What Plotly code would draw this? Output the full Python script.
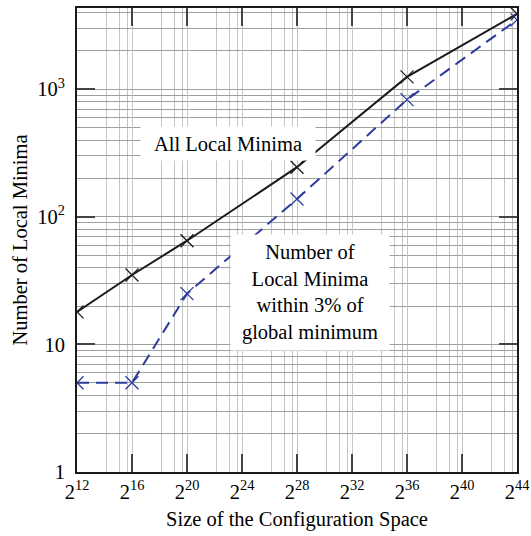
import plotly.graph_objects as go
import numpy as np

# ---- data ----
size_exponents = [12, 16, 20, 28, 36, 44]          # configuration space = 2**exp
all_local_minima = [18, 35, 65, 245, 1250, 3900]
within_3pct = [5, 5, 25, 138, 830, 3500]

x_tick_exponents = [12, 16, 20, 24, 28, 32, 36, 40, 44]
x_tick_labels = ["2<sup>%d</sup>" % e for e in x_tick_exponents]
y_tick_values = [1, 10, 100, 1000]
y_tick_labels = ["1", "10", "10<sup>2</sup>", "10<sup>3</sup>"]

label_all = "All Local Minima"
label_within = ["Number of", "Local Minima", "within 3% of", "global minimum"]

x_vals = [2.0 ** e for e in size_exponents]

# minor grid positions
minor_frac = [0.54, 0.77, 0.925]
x_minor = [2.0 ** (e + 4 * f) for e in x_tick_exponents[:-1] for f in minor_frac]
y_minor = [k * 10 ** d for d in range(0, 4) for k in range(2, 10)]

FONT = "Liberation Serif, DejaVu Serif, serif"
SERIF = "Liberation Serif"


def serif(t):
    return "<span style='font-family:%s'>%s</span>" % (SERIF, t)


fig = go.Figure()
fig.add_trace(go.Scatter(
    x=x_vals, y=all_local_minima, mode="lines+markers",
    line=dict(color="#1a1a1a", width=2),
    marker=dict(symbol="x-thin", size=13, line=dict(color="#1a1a1a", width=1.3)),
    showlegend=False))
fig.add_trace(go.Scatter(
    x=x_vals, y=within_3pct, mode="lines+markers",
    line=dict(color="#2b3a9c", width=2, dash="12px,7px"),
    marker=dict(symbol="x-thin", size=13, line=dict(color="#2b3a9c", width=1.3)),
    showlegend=False))

fig.update_layout(
    width=531, height=536,
    margin=dict(l=77, r=14, t=8, b=64),
    paper_bgcolor="white", plot_bgcolor="white",
    font=dict(family=FONT, size=20.5, color="black"),
    xaxis=dict(
        type="log", range=[12 * np.log10(2), 44 * np.log10(2)],
        tickvals=[2.0 ** e for e in x_tick_exponents], ticktext=x_tick_labels,
        ticks="inside", ticklen=18, tickwidth=2, tickcolor="#444",
        showline=True, linecolor="#1a1a1a", linewidth=2, mirror="allticks",
        showgrid=True, gridcolor="#c4c4c4", gridwidth=1.3,
        minor=dict(tickvals=x_minor, showgrid=True, gridcolor="#c4c4c4", gridwidth=1.3, ticks=""),
        title=dict(text="Size of the Configuration Space", standoff=10,
                   font=dict(family=FONT, size=20.5, color="black")),
        tickfont=dict(family=FONT, size=20.5, color="black"),
        automargin=False,
        zeroline=False,
    ),
    yaxis=dict(
        type="log", range=[0, 3.637],
        tickvals=y_tick_values, ticktext=y_tick_labels,
        ticks="inside", ticklen=18, tickwidth=2, tickcolor="#444",
        showline=True, linecolor="#1a1a1a", linewidth=2, mirror="allticks",
        showgrid=True, gridcolor="#a0a0a0", gridwidth=1.3,
        minor=dict(tickvals=y_minor, showgrid=True, gridcolor="#a0a0a0", gridwidth=1.3, ticks=""),
        title=dict(text="Number of Local Minima", standoff=4,
                   font=dict(family=FONT, size=20.5, color="black")),
        tickfont=dict(family=FONT, size=20.5, color="black"),
        ticklabelstandoff=6,
        automargin=False,
        zeroline=False,
    ),
)

fig.add_annotation(
    xref="paper", yref="paper", x=0.344, y=0.746,
    text=serif(label_all), showarrow=False,
    bgcolor="white", width=172, height=31,
    font=dict(family=SERIF, size=20.5, color="black"))
fig.add_annotation(
    xref="paper", yref="paper", x=0.711, y=0.387,
    text="<br>".join(serif(t) for t in label_within), showarrow=False,
    bgcolor="white", width=156, height=113,
    font=dict(family=SERIF, size=20.5, color="black"))

fig.write_html(
    "out.html",
    config={"displayModeBar": False},
    post_script="document.body.style.margin='0';document.body.style.padding='0';",
)
